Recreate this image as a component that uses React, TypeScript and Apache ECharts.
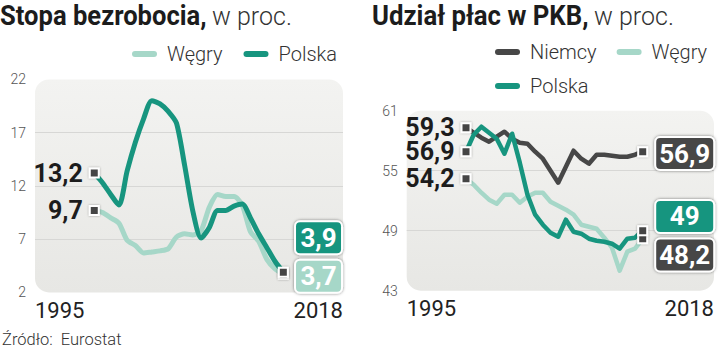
import React, { useEffect, useRef } from 'react';
import * as echarts from 'echarts';

// ---- data ----
const years = [1995, 1996, 1997, 1998, 1999, 2000, 2001, 2002, 2003, 2004, 2005, 2006,
  2007, 2008, 2009, 2010, 2011, 2012, 2013, 2014, 2015, 2016, 2017, 2018];

// Stopa bezrobocia, w proc.
const unempHungary = [9.7, 9.5, 9.0, 8.5, 6.9, 6.4, 5.7, 5.8, 5.9, 6.1, 7.2, 7.5,
  7.4, 7.8, 10.0, 11.2, 11.0, 11.0, 10.2, 7.7, 6.8, 5.1, 4.2, 3.7];
const unempPoland = [13.2, 12.3, 11.2, 10.2, 13.4, 16.1, 18.3, 20.0, 19.7, 19.0, 17.9, 13.9,
  9.6, 7.1, 8.1, 9.7, 9.7, 10.1, 10.3, 9.0, 7.5, 6.2, 4.9, 3.9];

// Udział płac w PKB, w proc.
const wageGermany = [59.3, 58.8, 58.3, 57.9, 58.4, 58.9, 58.2, 57.8, 57.7, 56.9, 56.2, 55.0,
  53.8, 55.4, 57.0, 56.2, 55.7, 56.6, 56.6, 56.5, 56.4, 56.4, 56.6, 56.9];
const wageHungary = [54.2, 53.6, 52.8, 52.1, 51.7, 52.6, 52.6, 51.8, 52.4, 52.8, 52.8, 51.9,
  51.5, 51.1, 50.6, 49.6, 49.4, 49.2, 48.3, 47.3, 45.0, 46.9, 47.2, 48.2];
const wagePoland = [56.9, 58.6, 59.4, 58.8, 58.2, 56.7, 58.7, 55.8, 52.6, 50.6, 49.6, 48.8,
  48.4, 50.1, 48.9, 48.7, 48.2, 48.0, 47.9, 47.7, 47.2, 48.2, 48.3, 49.0];

const xEdgeLabels = ['1995', '2018'];
const leftYTicks = [2, 7, 12, 17, 22];
const rightYTicks = [43, 49, 55, 61];

// ---- style ----
const TEAL = '#17957f';
const LIGHT = '#a6d7c8';
const DARK = '#474747';
const SANS = "Roboto, 'Noto Sans', sans-serif";

const fmt = (v: number) => (Number.isInteger(v) ? String(v) : String(v).replace('.', ','));

const G1 = { left: 35, top: 79.4, width: 308, height: 213 };
const G2 = { left: 406.7, top: 110.7, width: 307.3, height: 180 };
const X1 = { min: 1987.79, max: 2025.26 };
const X2 = { min: 1987.28, max: 2027.28 };

const ICON = 'path://M3,0 H22 A3,3 0 0 1 22,6 H3 A3,3 0 0 1 3,0 Z';

type Box = { bg: string; w: number; off: number[] };

function buildData(vals: number[], endBox: Box) {
  const last = vals.length - 1;
  return vals.map((v, i) => {
    if (i === 0) {
      return {
        value: [years[i], v],
        symbol: 'rect',
        label: {
          show: true, position: 'left', distance: 6, formatter: fmt(v),
          lineHeight: 21, verticalAlign: 'middle',
          color: '#1c1c1c', fontFamily: SANS, fontWeight: 'bold', fontSize: 25,
        },
      };
    }
    if (i === last) {
      return {
        value: [years[i], v],
        symbol: 'rect',
        label: {
          show: true, position: 'right', distance: 0, formatter: fmt(v),
          align: 'center', verticalAlign: 'middle', offset: endBox.off,
          width: endBox.w, height: 27, lineHeight: 27, padding: [2, 4],
          backgroundColor: endBox.bg, borderColor: '#ffffff', borderWidth: 2, borderRadius: 4,
          shadowColor: 'rgba(0,0,0,0.5)', shadowBlur: 3,
          color: '#ffffff', fontFamily: SANS, fontWeight: 'bold', fontSize: 26,
        },
      };
    }
    return { value: [years[i], v] };
  });
}

function lineSeries(name: string, color: string, vals: number[], idx: number, smooth: number,
  width: number, endBox: Box) {
  return {
    type: 'line', name, xAxisIndex: idx, yAxisIndex: idx,
    data: buildData(vals, endBox),
    symbol: 'none', showSymbol: true, showAllSymbol: true, symbolSize: 9,
    smooth,
    clip: false,
    itemStyle: { color: '#444', borderColor: '#fff', borderWidth: 2, shadowColor: 'rgba(0,0,0,0.35)', shadowBlur: 2 },
    lineStyle: { color, width, cap: 'round', join: 'round' },
    emphasis: { disabled: true },
  };
}

function yAxis(idx: number, ticks: number[]) {
  return {
    type: 'value', gridIndex: idx,
    min: ticks[0], max: ticks[ticks.length - 1], interval: ticks[1] - ticks[0],
    axisLine: { show: false }, axisTick: { show: false },
    axisLabel: { color: '#555', fontFamily: SANS, fontSize: 14, fontWeight: 300, margin: 9 },
    splitLine: { show: true, showMinLine: false, showMaxLine: false, lineStyle: { color: '#d7d7d5', width: 1 } },
  };
}

function xAxis(idx: number, ext: { min: number; max: number }) {
  return {
    type: 'value', gridIndex: idx, min: ext.min, max: ext.max,
    axisLine: { show: false }, axisTick: { show: false }, splitLine: { show: false },
    axisLabel: {
      customValues: [ext.min, ext.max],
      formatter: (v: number) => (Math.abs(v - ext.min) < 0.01 ? xEdgeLabels[0] : xEdgeLabels[1]),
      alignMinLabel: 'left', alignMaxLabel: 'right',
      color: '#222', fontFamily: SANS, fontSize: 22, margin: 7,
    },
  };
}

function bgRect(g: { left: number; top: number; width: number; height: number }) {
  return {
    type: 'rect', z: -10, silent: true,
    shape: { x: g.left, y: g.top, width: g.width, height: g.height, r: 14 },
    style: {
      fill: new echarts.graphic.LinearGradient(0, 0, 0, 1, [
        { offset: 0, color: '#f3f3f1' }, { offset: 1, color: '#e7e7e4' },
      ]),
    },
  };
}

function title(x: number, bold: string, scale: number, restX: number, rest: string) {
  return [
    {
      type: 'text', x, y: 2, scaleX: scale,
      style: {
        text: bold, verticalAlign: 'top',
        fontFamily: SANS, fontWeight: 'bold', fontSize: 28, fill: '#1c1c1c',
      },
    },
    {
      type: 'text', x: restX, y: 4,
      style: {
        text: rest, verticalAlign: 'top',
        fontFamily: SANS, fontWeight: 300, fontSize: 25, fill: '#333',
      },
    },
  ];
}

const colorOf: Record<string, string> = { 'Węgry': LIGHT, 'Polska': TEAL, 'Niemcy': DARK };
const legendItems = (names: string[]) =>
  names.map((n) => ({ name: n, itemStyle: { color: colorOf[n], borderWidth: 0, shadowBlur: 0 } }));

const legendBase = {
  icon: ICON, itemWidth: 25, itemHeight: 6, itemGap: 21, padding: 0,
  textStyle: { color: '#333', fontFamily: SANS, fontSize: 20, fontWeight: 300, padding: [0, 0, 0, 5] },
  selectedMode: false,
};

export default function App() {
  const ref = useRef<HTMLDivElement>(null);
  useEffect(() => {
    const chart = echarts.init(ref.current!, null, { renderer: 'svg' });
    chart.setOption({
      animation: false,
      backgroundColor: '#ffffff',
      grid: [G1, G2],
      xAxis: [xAxis(0, X1), xAxis(1, X2)],
      yAxis: [yAxis(0, leftYTicks), yAxis(1, rightYTicks)],
      legend: [
        { ...legendBase, data: legendItems(['Węgry', 'Polska']), left: 132, top: 44 },
        { ...legendBase, data: legendItems(['Niemcy', 'Węgry']), left: 495, top: 42, itemGap: 20 },
        { ...legendBase, data: legendItems(['Polska']), left: 495, top: 76 },
      ],
      graphic: [
        bgRect(G1), bgRect(G2),
        ...title(0, 'Stopa bezrobocia,', 0.914, 212, 'w proc.'),
        ...title(372, 'Udział płac w PKB,', 0.92, 594, 'w proc.'),
        {
          type: 'text', x: 2, y: 331,
          style: { text: 'Źródło:  Eurostat', fontFamily: SANS, fontSize: 16.5, fontWeight: 300, fill: '#333', verticalAlign: 'top' },
        },
      ],
      series: [
        lineSeries('Węgry', LIGHT, unempHungary, 0, 0.25, 5, { bg: LIGHT, w: 37, off: [29.7, 2] }),
        lineSeries('Polska', TEAL, unempPoland, 0, 0.25, 5, { bg: TEAL, w: 37, off: [29.7, -34.4] }),
        lineSeries('Niemcy', DARK, wageGermany, 1, 0, 4.5, { bg: DARK, w: 49, off: [36.5, 1.8] }),
        lineSeries('Węgry', LIGHT, wageHungary, 1, 0, 4.5, { bg: DARK, w: 49, off: [36.5, 16.3] }),
        lineSeries('Polska', TEAL, wagePoland, 1, 0, 4.5, { bg: TEAL, w: 49, off: [36.5, -14.3] }),
      ],
    });
    return () => chart.dispose();
  }, []);
  return (
    <div
      ref={ref}
      style={{ position: 'absolute', left: 0, top: 0, width: 720, height: 354 }}
    />
  );
}
